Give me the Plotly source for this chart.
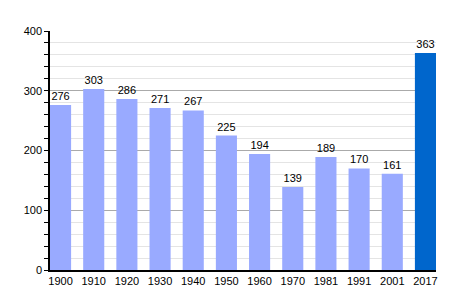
import plotly.graph_objects as go

years = ["1900", "1910", "1920", "1930", "1940", "1950", "1960", "1970", "1981", "1991", "2001", "2017"]
population = [276, 303, 286, 271, 267, 225, 194, 139, 189, 170, 161, 363]
colors = ["#99aaff"] * 11 + ["#0066cc"]

w = 0.636
fig = go.Figure(go.Bar(
    x=years, y=population, width=w, marker=dict(color=colors, line=dict(width=0)),
    text=[str(v) for v in population], textposition="outside",
    textfont=dict(color="black", size=11, family="Liberation Sans, Arial"),
    cliponaxis=False,
))
fig.update_layout(
    width=464, height=300, margin=dict(l=50, r=28, t=31, b=30),
    plot_bgcolor="white", paper_bgcolor="white",
    showlegend=False,
    font=dict(family="Liberation Sans, Arial", size=11, color="black"),
)
fig.update_yaxes(
    range=[0, 400], dtick=100, showgrid=True, gridcolor="#aaaaaa", gridwidth=1,
    showline=True, linecolor="black", linewidth=1.5, ticks="outside", ticklen=4,
    tickcolor="black", zeroline=False,
    minor=dict(dtick=20, showgrid=True, gridcolor="#e4e4e4", ticks="outside", ticklen=4, tickcolor="black"),
)
fig.update_xaxes(range=[-w / 2, len(years) - 1 + w / 2], showline=True, linecolor="black",
                 linewidth=1.5, ticks="", showgrid=False)
fig.write_html("out.html")
